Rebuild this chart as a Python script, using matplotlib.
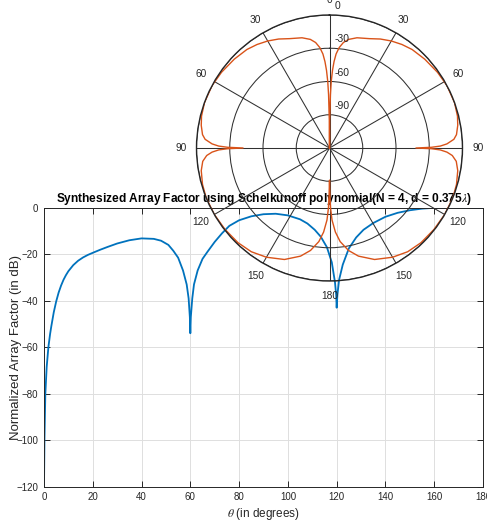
import numpy as np
import matplotlib
matplotlib.use("Agg")
import matplotlib.pyplot as plt
from matplotlib.transforms import offset_copy

plt.rcParams['font.family'] = ['Liberation Sans', 'DejaVu Sans']
plt.rcParams['mathtext.fontset'] = 'stix'

# ---- Cartesian array factor (theta in degrees, AF in dB) ----
theta_deg = [0, 0.2, 0.55, 1.1, 1.8, 2.5, 3, 4, 5, 6, 7, 8, 9, 10, 12, 14, 16, 18, 20, 23,
             26, 30, 35, 40, 45, 48, 51, 53, 55, 57, 58.5, 59.3, 59.8, 60, 60.2, 60.8,
             61.5, 63, 65, 67, 70, 73, 76, 80, 85, 90, 95, 100, 105, 108, 111, 113.5,
             116, 118, 119.3, 119.8, 120, 120.3, 121, 122.5, 125, 128, 131, 135, 140,
             145, 150, 155, 160, 165, 170, 175, 180]
af_db = [-120, -99, -80, -68.5, -60, -54.3, -51, -45, -40.3, -36.5, -33.5, -31.0, -29.0,
         -27.3, -24.7, -22.8, -21.4, -20.3, -19.4, -18.1, -16.9, -15.4, -14.0, -13.2,
         -13.4, -14.2, -16, -18.5, -21.5, -27, -33, -39, -47, -54, -47, -39, -33, -27,
         -22, -19, -14.7, -11.0, -7.8, -5.4, -3.7, -2.8, -2.6, -3.3, -5, -6.8, -9.5,
         -12.5, -17, -23.5, -32, -37.5, -43, -37.5, -31, -24.5, -17.5, -12.8, -9.5,
         -6.6, -3.9, -2.2, -1.1, -0.4, -0.05, 0, -0.05, -0.1, -0.15]

# ---- Polar pattern (angle from top, clockwise, right half; mirrored on left) ----
pol_deg = [0, 0.4, 1, 1.5, 2.2, 3, 4, 5.5, 7.5, 10, 14, 20, 25, 30, 35, 40, 47, 55, 62,
           70, 76, 80, 84, 86, 88, 89, 89.6, 90, 90.4, 91, 92, 93.5, 96, 100, 106, 112,
           120, 128, 136, 143, 150, 158, 165, 169.5, 173.5, 176, 178, 179, 179.5, 180]
pol_db = [-120, -95, -72, -60, -50, -42, -35, -29, -24, -20.5, -17.5, -15, -11.5, -8.5,
          -6, -4, -2.5, -1, 0, 0, -1, -2.5, -4.8, -7.5, -14, -20, -28, -42, -28, -20,
          -14, -9, -5, -2.5, -0.8, 0, 0, -0.5, -1.2, -2.8, -6.2, -11.5, -19, -26, -35,
          -44, -55, -66, -78, -91]

x_ticks = [0, 20, 40, 60, 80, 100, 120, 140, 160, 180]
y_ticks = [-120, -100, -80, -60, -40, -20, 0]
theta_tick_deg = [0, 30, 60, 90, 120, 150, 180, 210, 240, 270, 300, 330]
theta_tick_labels = ['0', '30', '60', '90', '120', '150', '180', '150', '120', '90', '60', '30']
r_ticks = [-90, -60, -30, 0]
r_labels = ['-90', '-60', '-30', '0']

W, H = 487, 525
fig = plt.figure(figsize=(W / 100, H / 100), dpi=100)

dark = '#262626'
ax = fig.add_axes([44 / W, 38.3 / H, 439 / W, 279 / H])
ax.plot(theta_deg, af_db, color='#0072BD', lw=1.3)
ax.set_xlim(0, 180)
ax.set_ylim(-120, 0)
ax.set_xticks(x_ticks)
ax.set_yticks(y_ticks)
ax.grid(True, color='#dedede', lw=0.7)
ax.set_axisbelow(True)
ax.tick_params(direction='in', top=True, right=True, length=4, width=0.7,
               labelsize=7, colors=dark, pad=4)
for s in ax.spines.values():
    s.set_color(dark)
    s.set_linewidth(0.7)
ax.set_xlabel(r'$\theta$ (in degrees)', fontsize=8.5, color=dark, labelpad=3)
ax.set_ylabel('Normalized Array Factor (in dB)', fontsize=9.5, color=dark)
ax.yaxis.set_label_coords(-0.05, 0.5)
ax.set_title(r'Synthesized Array Factor using Schelkunoff polynomial(N = 4, d = 0.375$\lambda$)',
             fontsize=8.55, fontweight='bold', color='black', pad=4)

# polar inset
cx, cy, R = 329.5, 148, 133
pax = fig.add_axes([(cx - R) / W, (H - cy - R) / H, 2 * R / W, 2 * R / H], projection='polar')
pax.patch.set_alpha(0)
pax.set_theta_zero_location('N')
pax.set_theta_direction(-1)
ang = np.concatenate([np.array(pol_deg), 360 - np.array(pol_deg)[::-1]])
rr = np.concatenate([np.array(pol_db), np.array(pol_db)[::-1]])
pax.plot(np.deg2rad(ang), rr, color='#D95319', lw=1.0)
pax.set_ylim(-120, 0)
pax.set_yticks(r_ticks)
pax.set_yticklabels([])
pax.set_xticks(np.deg2rad(theta_tick_deg))
pax.set_xticklabels(theta_tick_labels)
pax.set_xticks(np.deg2rad(np.arange(0, 360, 5)), minor=True)
pax.grid(True, color='#303030', lw=0.75)
pax.tick_params(axis='x', which='minor', direction='in', length=4, width=0.6, color='#303030')
pax.tick_params(axis='x', which='major', length=0, pad=4, labelsize=7.3, labelcolor=dark)
pax.spines['polar'].set_color(dark)
pax.spines['polar'].set_linewidth(1.0)
tr = offset_copy(pax.transData, fig=fig, x=5.5, y=9, units='dots')
for rv, lab in zip(r_ticks, r_labels):
    pax.text(0, rv, lab, transform=tr, ha='left', va='center', fontsize=7.5, color=dark)

fig.savefig('out.png', dpi=100)
